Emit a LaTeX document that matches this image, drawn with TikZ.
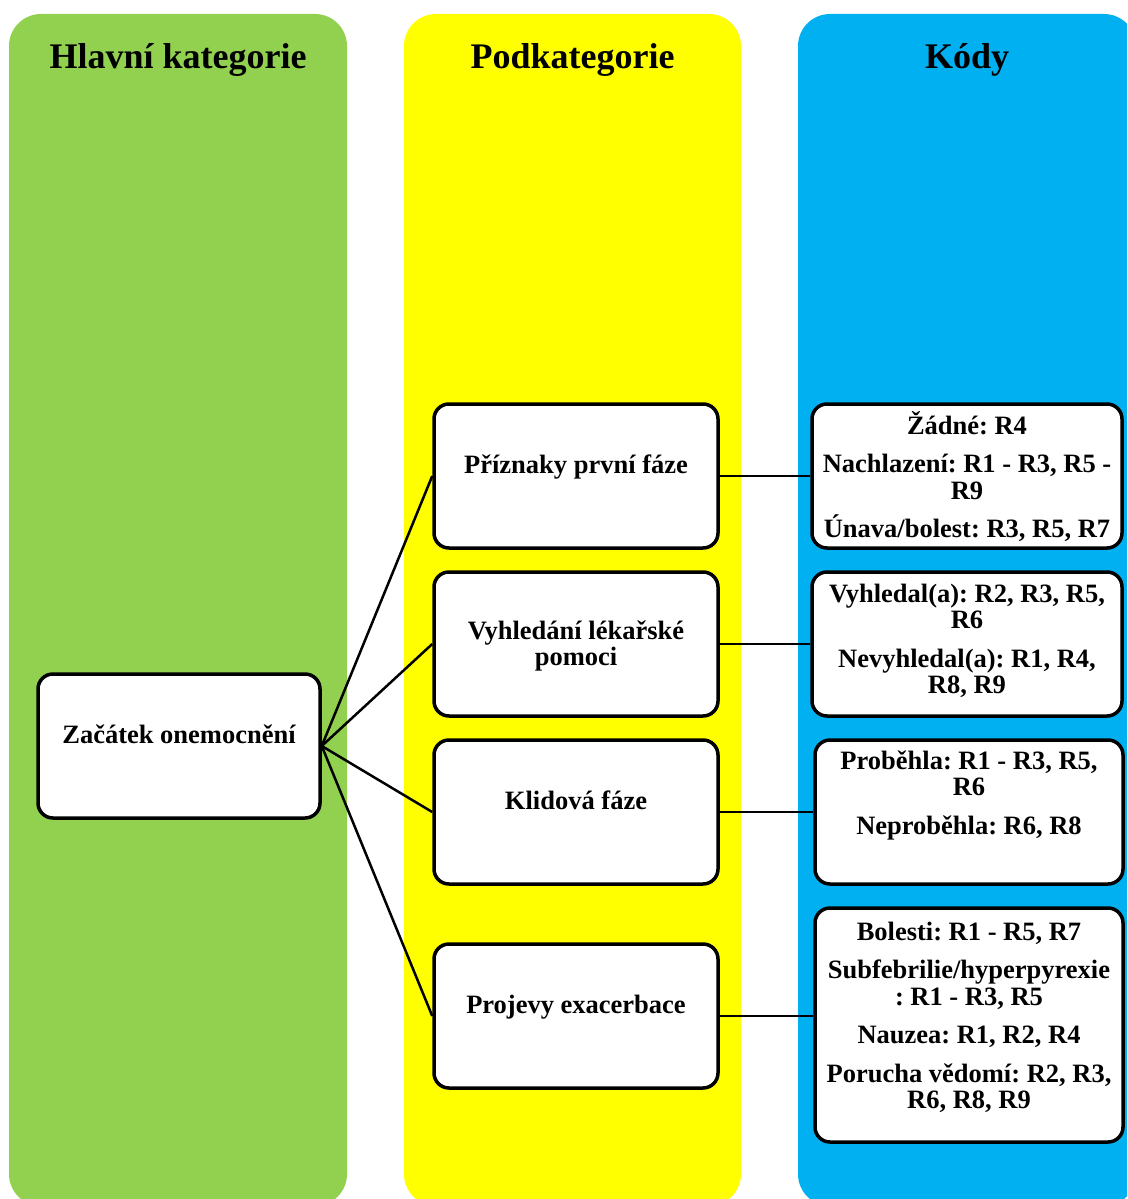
\documentclass[tikz,border=0pt]{standalone}
\usepackage{fontspec}
\setmainfont{Liberation Serif}
\frenchspacing
\definecolor{grn}{HTML}{92D050}
\definecolor{yel}{HTML}{FFFF00}
\definecolor{blu}{HTML}{00B0F0}
% centred block of lines whose base anchor is the first baseline
\newcommand\cellbox[1]{\parbox[t]{300pt}{\centering #1}}
\begin{document}
\begin{tikzpicture}[x=1pt,y=-1pt,
  column/.style={rounded corners=32pt},
  box/.style={draw=black, fill=white, line width=3.5pt, rounded corners=15pt, inner sep=0pt},
  link/.style={line width=2.5pt},
  head/.style={anchor=base, inner sep=0pt, font=\fontsize{36}{36}\selectfont\bfseries},
  txt/.style={anchor=base, inner sep=0pt, font=\fontsize{26.5}{26.5}\selectfont\bfseries},
]
\useasboundingbox (0,0) rectangle (1127,1199);
\clip (0,0) rectangle (1127,1199);

% three category columns
\fill[grn, column] (9,14) rectangle (347,1206);
\fill[yel, column] (404,14) rectangle (741,1206);
\fill[blu, column] (798,14) rectangle (1136,1206);

\node[head] (h1) at (178,68) {Hlavní kategorie};
\node[head] (h2) at (572.5,68) {Podkategorie};
\node[head] (h3) at (967,68) {Kódy};

% main category
\node[box, minimum width=282pt, minimum height=144pt] (m) at (179,746) {};

% subcategories
\node[box, minimum width=284pt, minimum height=144pt] (s1) at (576,476) {};
\node[box, minimum width=284pt, minimum height=144pt] (s2) at (576,644) {};
\node[box, minimum width=284pt, minimum height=144pt] (s3) at (576,812) {};
\node[box, minimum width=284pt, minimum height=144pt] (s4) at (576,1016) {};

% codes
\node[box, minimum width=310pt, minimum height=144pt] (k1) at (967,476) {};
\node[box, minimum width=310pt, minimum height=144pt] (k2) at (967,644) {};
\node[box, minimum width=308pt, minimum height=144pt] (k3) at (969,812) {};
\node[box, minimum width=308pt, minimum height=234pt] (k4) at (969,1025) {};

% connectors
\foreach \s in {s1,s2,s3,s4} \draw[link] (m.east) -- (\s.west);
\draw[link] (s1.east) -- (s1.east -| k1.west);
\draw[link] (s2.east) -- (s2.east -| k2.west);
\draw[link] (s3.east) -- (s3.east -| k3.west);
\draw[link] (s4.east) -- (s4.east -| k4.west);

% box texts
\node[txt] (mt) at (m.north) [yshift=-71pt] {\cellbox{Začátek onemocnění}};
\node[txt] (s1t) at (s1.north) [yshift=-71pt] {\cellbox{Příznaky první fáze}};
\node[txt] (s2t) at (s2.north) [yshift=-69pt] {\cellbox{Vyhledání lékařské\\pomoci}};
\node[txt] (s3t) at (s3.north) [yshift=-71pt] {\cellbox{Klidová fáze}};
\node[txt] (s4t) at (s4.north) [yshift=-71pt] {\cellbox{Projevy exacerbace}};

\node[txt] (k1t) at (k1.north) [yshift=-32pt] {\cellbox{Žádné: R4\\[12pt]Nachlazení: R1 - R3, R5 -\\R9\\[12pt]Únava/bolest: R3, R5, R7}};
\node[txt] (k2t) at (k2.north) [yshift=-32pt] {\cellbox{Vyhledal(a): R2, R3, R5,\\R6\\[12pt]Nevyhledal(a): R1, R4,\\R8, R9}};
\node[txt] (k3t) at (k3.north) [yshift=-31pt] {\cellbox{Proběhla: R1 - R3, R5,\\R6\\[12pt]Neproběhla: R6, R8}};
\node[txt] (k4t) at (k4.north) [yshift=-34pt] {\cellbox{Bolesti: R1 - R5, R7\\[12pt]Subfebrilie/hyperpyrexie\\: R1 - R3, R5\\[12pt]Nauzea: R1, R2, R4\\[12pt]Porucha vědomí: R2, R3,\\R6, R8, R9}};
\end{tikzpicture}
\end{document}
